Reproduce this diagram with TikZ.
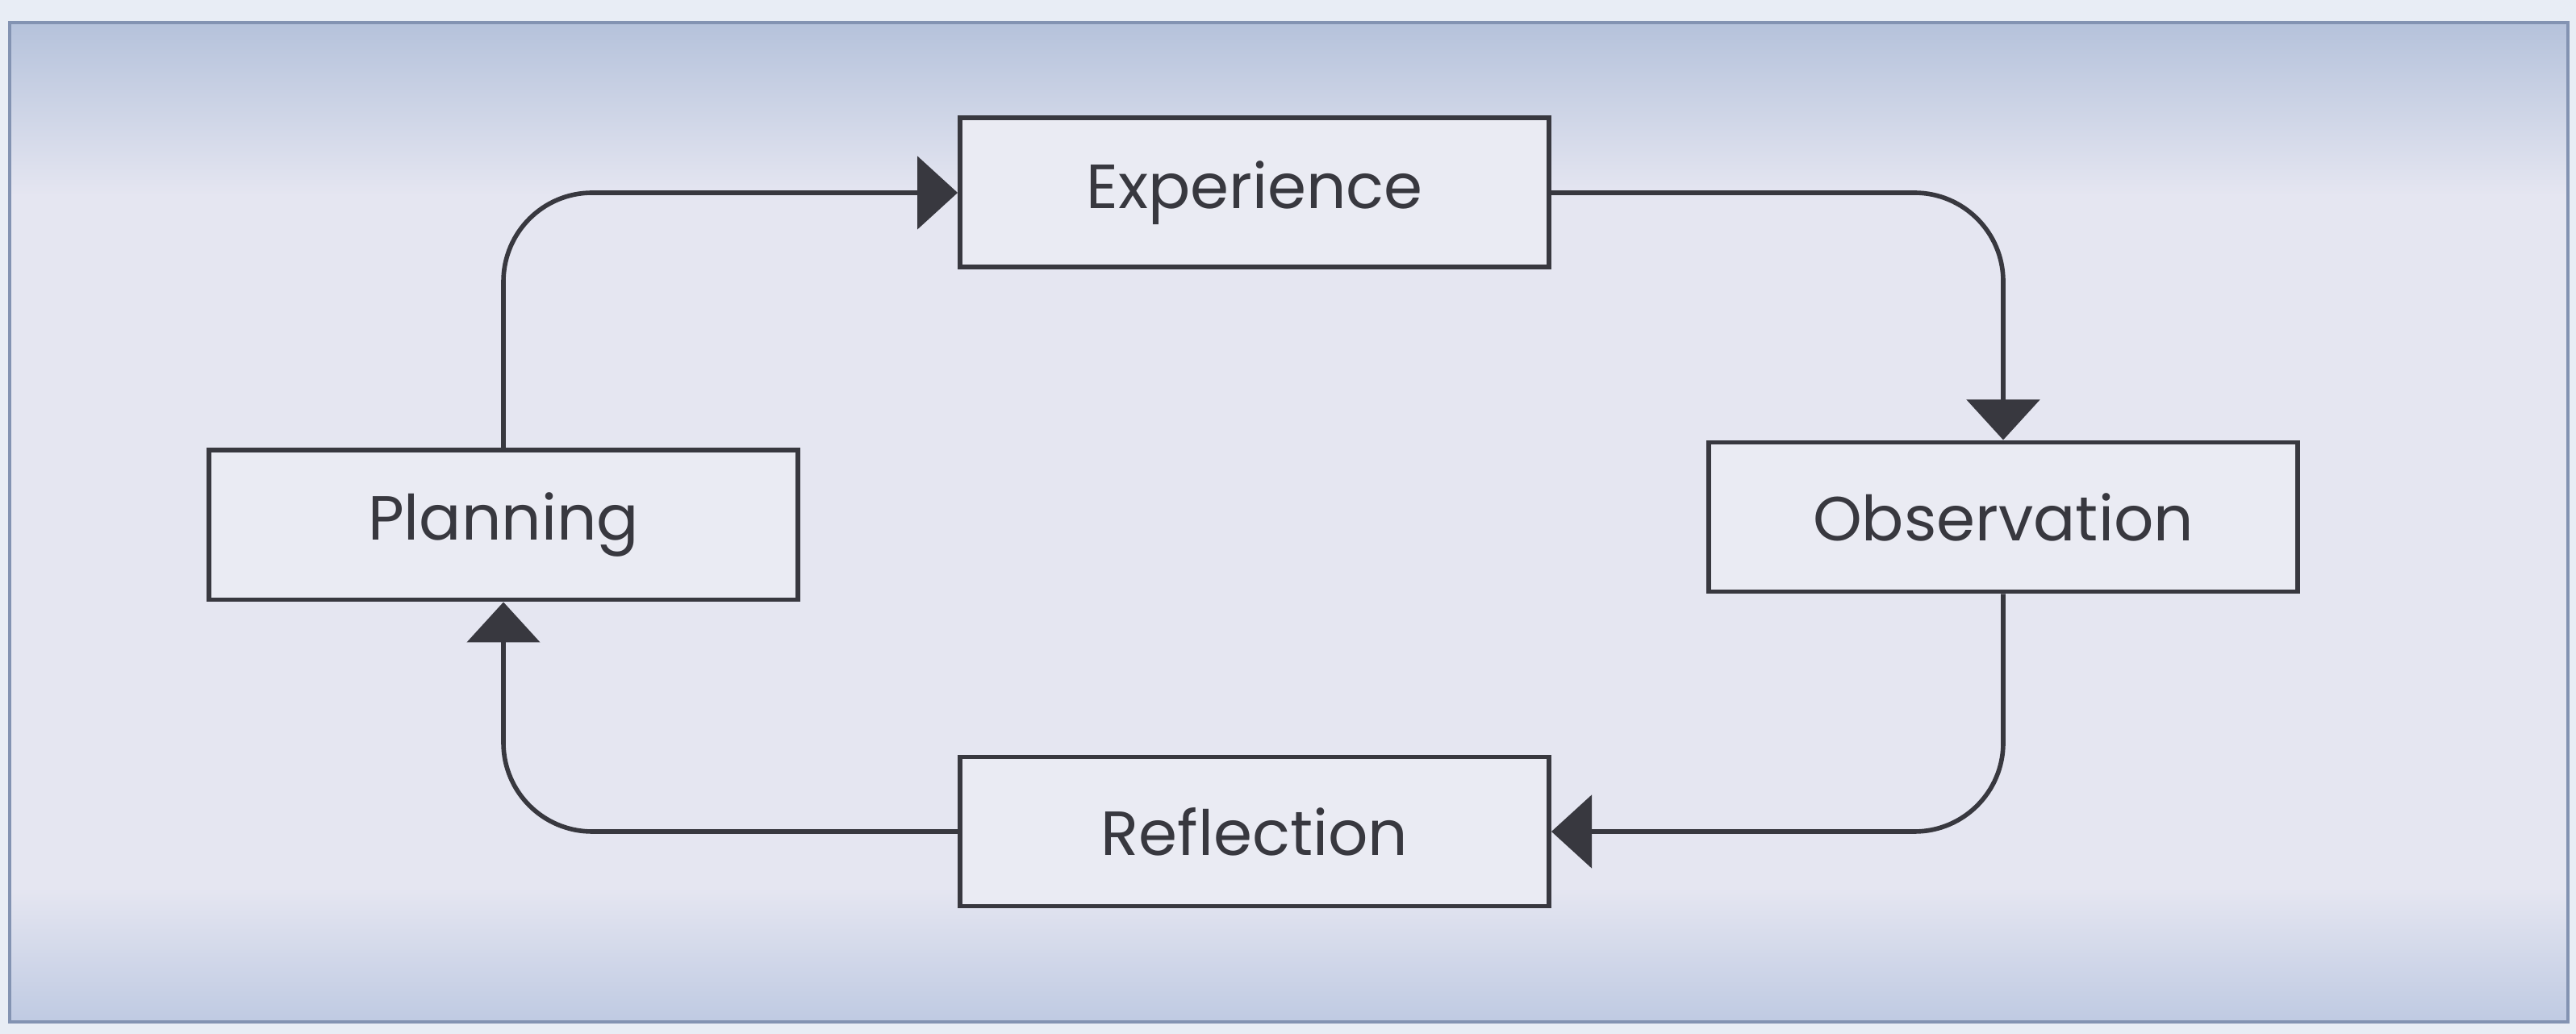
\documentclass[tikz,border=0pt]{standalone}
\usepackage{fontspec}
\setmainfont{Poppins}
\usetikzlibrary{arrows.meta}

\definecolor{pagebg}{HTML}{E8EDF5}
\definecolor{framecol}{HTML}{8393B2}
\definecolor{boxfill}{HTML}{EAEBF3}
\definecolor{inkcol}{HTML}{38383F}
\definecolor{bgtop}{HTML}{B5C2DB}
\definecolor{bgmid}{HTML}{E5E6F1}
\definecolor{bgbottom}{HTML}{BFCAE2}

\begin{document}
\begin{tikzpicture}[
    node distance=4cm,
    stage/.style={rectangle, draw=inkcol, line width=1.7pt, fill=boxfill, text=inkcol,
      minimum width=7.3cm, minimum height=1.85cm, font=\fontsize{22}{26}\selectfont},
    arrow/.style={-{Triangle[length=0.5cm, width=0.9cm]}, line width=1.6pt, draw=inkcol,
      rounded corners=1.1cm}
]

% Background panel
\useasboundingbox (0,0) rectangle (31.93,12.82);
\fill[pagebg] (0,0) rectangle (31.93,12.82);
\fill[bgmid] (0.12,1.8) rectangle (31.83,10.4);
\shade[top color=bgtop, bottom color=bgmid] (0.12,10.39) rectangle (31.83,12.54);
\shade[top color=bgmid, bottom color=bgbottom] (0.12,0.15) rectangle (31.83,1.81);
\draw[framecol, line width=1.3pt] (0.12,0.15) rectangle (31.83,12.54);

% Cycle stages
\node[stage] (exp) at (15.55,10.43) {Experience};
\node[stage, right of=exp, xshift=5.28cm, yshift=-4.02cm] (obs) {Observation};
\node[stage, below of=exp, yshift=-3.92cm] (refl) {Reflection};
\node[stage, left of=exp, xshift=-5.31cm, yshift=-4.12cm] (plan) {Planning};

% Arrows
\draw[arrow] (plan.north) |- (exp.west);
\draw[arrow] (exp.east) -| (obs.north);
\draw[arrow] (obs.south) |- (refl.east);
\draw[arrow] (refl.west) -| (plan.south);

\end{tikzpicture}
\end{document}
